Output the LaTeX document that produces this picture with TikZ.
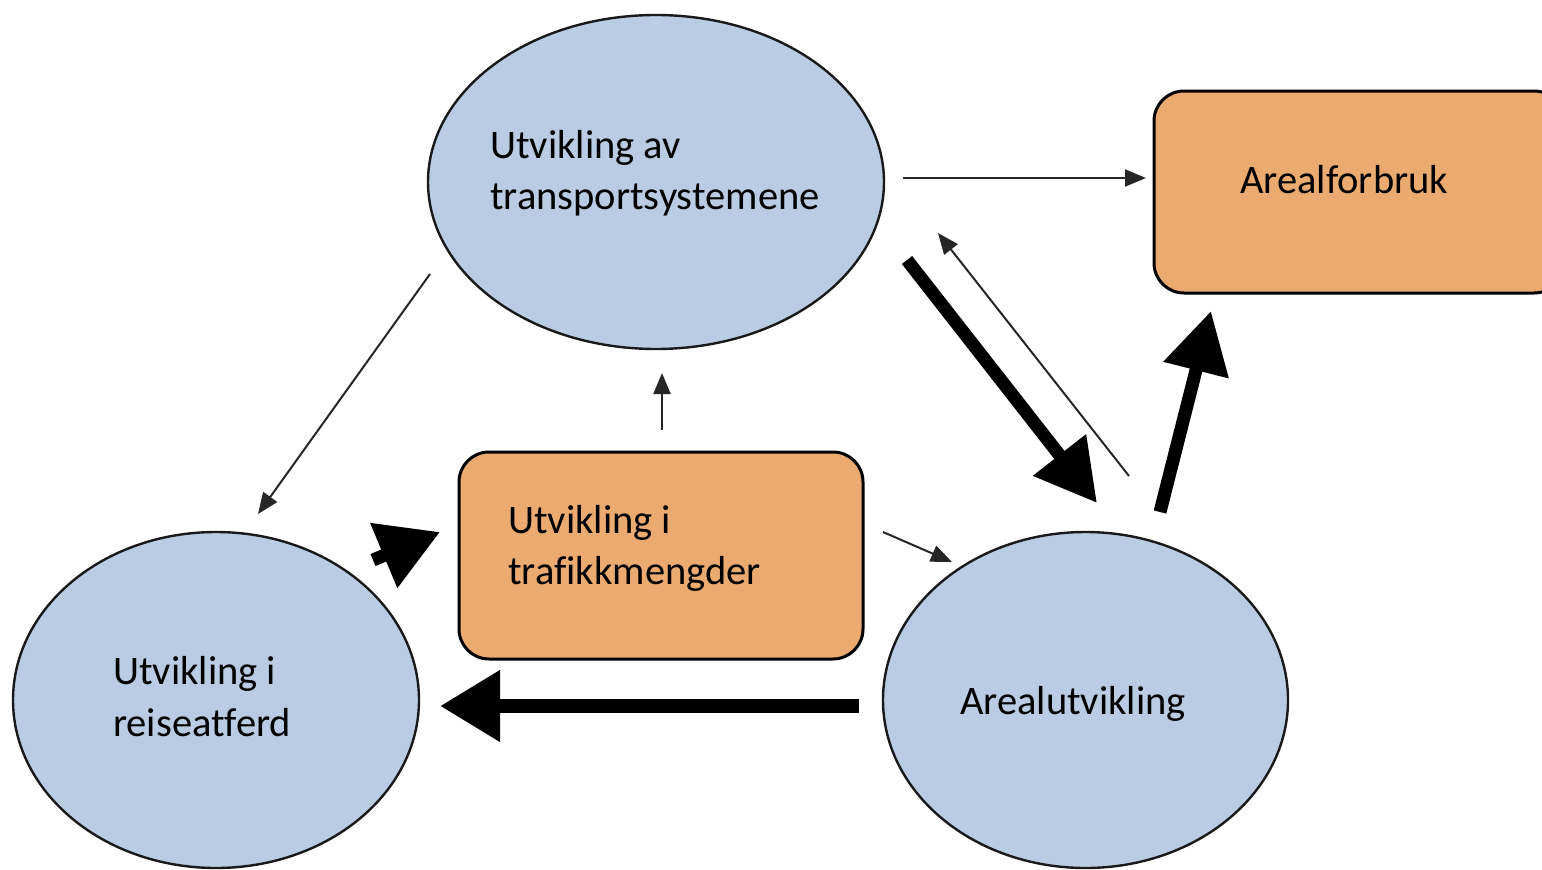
\documentclass[tikz,border=0pt]{standalone}
\usepackage{fontspec}
\setmainfont[Ligatures=NoCommon]{Carlito}
\usetikzlibrary{shapes.geometric,arrows.meta}
\definecolor{ellblue}{RGB}{185,204,228}
\definecolor{boxorange}{RGB}{235,170,112}
\tikzset{
  ell/.style={ellipse,draw=black!90,line width=2.4pt,fill=ellblue,inner sep=0pt},
  obox/.style={rectangle,rounded corners=30pt,draw=black,line width=3pt,fill=boxorange,inner sep=0pt},
  lbl/.style={anchor=base west,inner sep=0pt,align=left,font=\fontsize{40.5pt}{51pt}\selectfont},
  thin arrow/.style={line width=2pt,black!85,-{Triangle[length=21pt,width=17pt]}},
  thick arrow/.style={line width=13pt,-{Triangle[length=61pt,width=64pt]}}
}
\begin{document}
\begin{tikzpicture}[x=1pt,y=-1pt]
\useasboundingbox (0,0) rectangle (1542,870);
% shapes
\node[ell,minimum width=456pt,minimum height=334pt] (top) at (656,182) {};
\node[ell,minimum width=406pt,minimum height=336pt] (reise) at (216,700) {};
\node[ell,minimum width=405pt,minimum height=336pt] (areal) at (1085.5,700) {};
\node[obox,minimum width=410pt,minimum height=202pt] (forbruk) at (1359,192) {};
\node[obox,minimum width=404pt,minimum height=207pt] (trafikk) at (661,555.5) {};
% labels
\node[lbl] (ltop1) at (490,158) {Utvikling av};
\node[lbl] (ltop2) at (490,209) {transportsystemene};
\node[lbl] (lforbruk) at (1240,193) {Arealforbruk};
\node[lbl] (ltraf1) at (508,533) {Utvikling i};
\node[lbl] (ltraf2) at (508,584) {trafikkmengder};
\node[lbl] (lreise1) at (113,684) {Utvikling i};
\node[lbl] (lreise2) at (113,736) {reiseatferd};
\node[lbl] (lareal) at (960,714) {Arealutvikling};
% arrow end points
\coordinate (a1s) at (903,178);  \coordinate (a1e) at (1146,178);
\coordinate (a2s) at (430,274);  \coordinate (a2e) at (258,514);
\coordinate (a3s) at (662,430);  \coordinate (a3e) at (662,373);
\coordinate (a4s) at (883,532);  \coordinate (a4e) at (952,562);
\coordinate (a5s) at (907,260);  \coordinate (a5e) at (1097,503);
\coordinate (a6s) at (1129,476); \coordinate (a6e) at (938,233);
\coordinate (a7s) at (1160,512); \coordinate (a7e) at (1211,311);
\coordinate (a8s) at (859,706);  \coordinate (a8e) at (440,706);
\coordinate (a9s) at (373,560);  \coordinate (a9e) at (440,532);
% arrows
\draw[thin arrow] (a1s) -- (a1e);
\draw[thin arrow] (a2s) -- (a2e);
\draw[thin arrow] (a3s) -- (a3e);
\draw[thin arrow] (a4s) -- (a4e);
\draw[thin arrow] (a6s) -- (a6e);
\draw[thick arrow] (a5s) -- (a5e);
\draw[thick arrow] (a7s) -- (a7e);
\draw[thick arrow,line width=14pt,-{Triangle[length=60pt,width=68pt]}] (a8s) -- (a8e);
\draw[thick arrow,-{Triangle[length=61pt,width=67pt]}] (a9s) -- (a9e);
\end{tikzpicture}
\end{document}
